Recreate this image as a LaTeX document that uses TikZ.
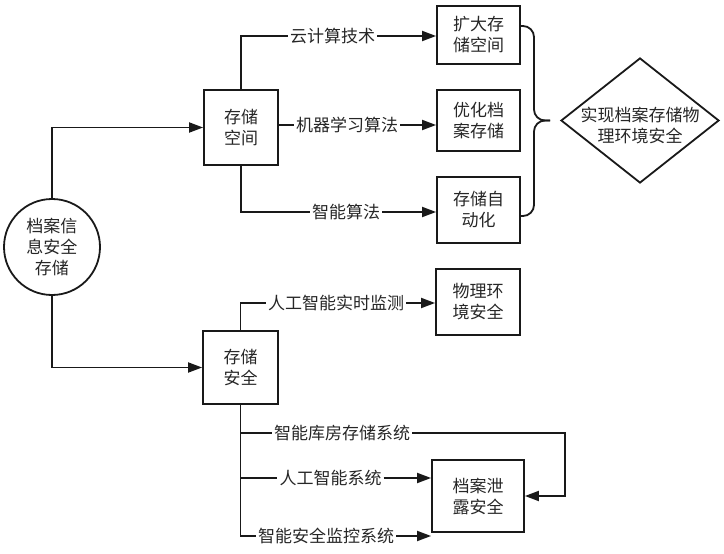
\documentclass[tikz,border=0pt]{standalone}
\usepackage{fontspec}
\setmainfont{Noto Sans CJK SC}
\usetikzlibrary{arrows.meta,shapes.geometric}
\begin{document}
\begin{tikzpicture}[x=1pt,y=-1pt,
  every node/.style={font=\fontsize{17}{21}\selectfont, text=black!85, align=center},
  box/.style={draw=black!90, line width=1.8pt, inner sep=0pt},
  lab/.style={inner sep=2pt},
  conn/.style={draw=black!90, line width=1.8pt},
  arr/.style={conn, -{Triangle[length=14pt,width=10pt]}}
]
\useasboundingbox (0,0) rectangle (724,554);

% main nodes
\node[circle, draw=black!90, line width=1.8pt, minimum size=96pt, inner sep=0pt] (root) at (52,247) {档案信\\息安全\\存储};
\node[box, minimum width=74pt, minimum height=75pt] (cc) at (241,127.5) {存储\\空间};
\node[box, minimum width=83pt, minimum height=58pt] (kd) at (478.5,35) {扩大存\\储空间};
\node[box, minimum width=83pt, minimum height=61pt] (yh) at (478.5,120.5) {优化档\\案存储};
\node[box, minimum width=83pt, minimum height=66pt] (zd) at (478.5,210) {存储自\\动化};
\node[diamond, draw=black!90, line width=1.8pt, minimum width=158pt, minimum height=125pt, inner sep=0pt,
      label={[yshift=-5pt]center:实现档案存储物\\理环境安全}] (goal) at (640,120.5) {};
\node[box, minimum width=75pt, minimum height=73pt] (aq) at (240.5,367.5) {存储\\安全};
\node[box, minimum width=84pt, minimum height=66pt] (wl) at (478,302) {物理环\\境安全};
\node[box, minimum width=92pt, minimum height=72pt] (xl) at (478,496) {档案泄\\露安全};

% connector labels
\node[lab] (l1) at (332.5,36) {云计算技术};
\node[lab] (l2) at (347,125) {机器学习算法};
\node[lab] (l3) at (346,212) {智能算法};
\node[lab] (l4) at (336,303) {人工智能实时监测};
\node[lab] (l5) at (342,433) {智能库房存储系统};
\node[lab] (l6) at (330.5,478) {人工智能系统};
\node[lab] (l7) at (326,536) {智能安全监控系统};

% connectors
\draw[arr] (root.north) |- (cc.west);
\draw[arr] (root.south) |- (aq.west);

\draw[conn] (cc.north) |- (l1.west);
\draw[arr] (l1.east) -- (l1.east -| kd.west);
\draw[conn] (cc.east |- l2.west) -- (l2.west);
\draw[arr] (l2.east) -- (l2.east -| yh.west);
\draw[conn] (cc.south) |- (l3.west);
\draw[arr] (l3.east) -- (l3.east -| zd.west);

\draw[conn] (aq.north) |- (l4.west);
\draw[arr] (l4.east) -- (l4.east -| wl.west);
\draw[conn] (aq.south) |- (l7.west);
\draw[arr] (l7.east) -- (l7.east -| xl.west);
\draw[conn] (aq.south |- l5.west) -- (l5.west);
\coordinate (rt) at (565,433);
\draw[arr] (l5.east) -- (rt) |- (xl.east);
\draw[conn] (aq.south |- l6.west) -- (l6.west);
\draw[arr] (l6.east) -- (l6.east -| xl.west);

% brace
\coordinate (bt) at (520,26);
\coordinate (bm) at (534,120.5);
\coordinate (bb) at (520,216);
\coordinate (tip) at (550,120.5);
\draw[conn, rounded corners=11pt] (bt) -- (bt -| bm) -- (bm) -- (tip);
\draw[conn, rounded corners=11pt] (tip) -- (bm) -- (bb -| bm) -- (bb);
\end{tikzpicture}
\end{document}
